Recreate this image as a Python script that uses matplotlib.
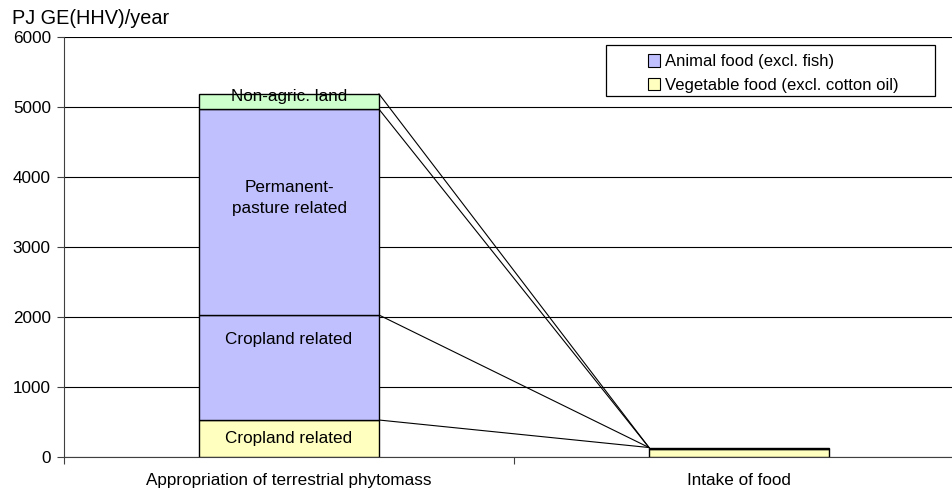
import numpy as np
import matplotlib
matplotlib.use('Agg')
import matplotlib.pyplot as plt
from matplotlib.patches import Patch, Rectangle

plt.rcParams['font.family'] = ['Liberation Sans', 'DejaVu Sans']

# data (PJ GE(HHV)/year)
categories = ['Appropriation of terrestrial phytomass', 'Intake of food']
# left bar: stacked segments bottom -> top
left_segs = [524, 1500, 2940, 218]
left_cols = ['#FFFFC0', '#C0C0FF', '#C0C0FF', '#CCFFCC']
left_lbls = ['Cropland related', 'Cropland related', 'Permanent-\npasture related', 'Non-agric. land']
# right bar
right_veg = 103
right_animal = 28

W, H = 952, 493
fig = plt.figure(figsize=(W/100, H/100), dpi=100)
# axes right edge runs past the figure (gridlines touch the edge)
ax = fig.add_axes([64/W, 1-456.7/H, 900/W, 420/H])

xc = [0.5, 1.5]
bw = 0.4
fs = 12.3

bottoms = np.concatenate([[0], np.cumsum(left_segs)[:-1]])
for seg, b, c in zip(left_segs, bottoms, left_cols):
    ax.bar(xc[0], seg, bw, bottom=b, color=c, edgecolor='black', linewidth=1.0, zorder=3)

# labels inside the left bar (label heights)
lbl_y = [260, 1680, 3700, 5150]
for lb, ly in zip(left_lbls, lbl_y):
    ax.text(xc[0], ly, lb, ha='center', va='center', fontsize=fs, zorder=4, linespacing=1.5)

ax.bar(xc[1], right_veg, bw, color='#FFFFC0', edgecolor='black', linewidth=1.0, zorder=3)
ax.bar(xc[1], right_animal, bw, bottom=right_veg, color='#C0C0FF', edgecolor='black', linewidth=1.0, zorder=3)

# connector lines
tops = np.cumsum(left_segs)
rtop = right_veg + right_animal
for t in tops:
    ax.plot([xc[0] + bw/2, xc[1] - bw/2], [t, rtop], color='black', linewidth=0.8, zorder=2)

ax.set_xlim(0, 2)
ax.set_ylim(0, 6000)
ax.set_yticks(np.arange(0, 6001, 1000))
ax.set_xticks([0, 1.0, 2.0])
ax.set_xticklabels(['', '', ''])
ax.set_xticks(xc, minor=True)
ax.set_xticklabels(categories, minor=True)
ax.tick_params(axis='x', which='minor', length=0, pad=12, labelsize=fs)
ax.tick_params(axis='x', which='major', length=5, color='#404040')
ax.tick_params(axis='y', length=5, labelsize=fs, pad=4.5, color='#404040')
ax.grid(axis='y', color='black', linewidth=0.8, zorder=0)
ax.set_axisbelow(True)
for s in ['top', 'right']:
    ax.spines[s].set_visible(False)
ax.spines['bottom'].set_color('#404040')
ax.spines['left'].set_color('#404040')

fig.text(12/W, 1-18/H, 'PJ GE(HHV)/year', fontsize=14.3, ha='left', va='center')

# legend: frame drawn separately, entries centred in it
box = Rectangle((606/W, 1-96/H), 329/W, 51/H, transform=fig.transFigure,
                facecolor='white', edgecolor='black', linewidth=0.9, zorder=5)
fig.add_artist(box)
handles = [Patch(facecolor='#C0C0FF', edgecolor='black', linewidth=0.8),
           Patch(facecolor='#FFFFC0', edgecolor='black', linewidth=0.8)]
leg = fig.legend(handles, ['Animal food (excl. fish)', 'Vegetable food (excl. cotton oil)'],
                 loc='center', bbox_to_anchor=(773/W, 1-73.5/H),
                 bbox_transform=fig.transFigure, fontsize=12, frameon=False,
                 handlelength=0.75, handleheight=0.75, handletextpad=0.25,
                 borderpad=0, labelspacing=0.5, borderaxespad=0)
leg.set_zorder(6)
leg._legend_box.align = 'left'

fig.savefig('out.png', dpi=100)
